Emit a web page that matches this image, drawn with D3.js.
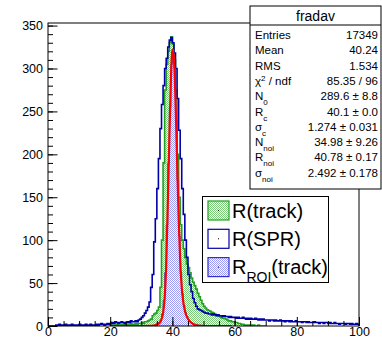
<!DOCTYPE html>
<html><head><meta charset="utf-8">
<script src="https://cdn.jsdelivr.net/npm/d3@7"></script>
<style>
html,body{margin:0;padding:0;background:#fff;}
svg{display:block;font-family:"Liberation Sans",Arial,Helvetica,sans-serif;}
</style></head>
<body><svg id="c" width="382" height="338"></svg>
<script>
// ---------------- data ----------------
const binWidth = 0.5;
const xTicks = [0, 20, 40, 60, 80, 100];
const yTicks = [0, 50, 100, 150, 200, 250, 300, 350];

// R(SPR): bins of 0.5 from 0 to 100
const sprStart = 0;
const sprCounts = [
  0,0,0,0,0,1,0,2,1,0,      1,2,1,0,1,2,1,1,0,1,
  2,1,0,1,2,1,1,2,1,0,      1,2,1,2,3,2,1,2,3,2,
  3,4,3,5,4,3,4,5,4,3,      4,5,4,6,5,5,6,5,7,8,
  10,12,15,18,22,28,        45,60,98,125,
  160,195,230,258,          280,300,312,325,
  333,336,330,318,          300,265,228,195,
  160,130,100,80,           60,48,40,32,
  27,23,20,19,18,17,
  16,15,15,14,14,13,14,13,12,13,  12,12,11,12,11,11,10,11,10,10,
  10,9,10,9,9,10,9,8,9,8,         9,8,8,9,8,7,8,7,8,7,
  7,7,6,7,7,6,7,6,6,7,            6,6,5,6,6,5,6,5,5,6,
  5,5,5,4,5,5,4,5,4,4,            4,5,4,4,3,4,4,3,4,4,
  3,4,3,3,4,3,3,2,3,3,            3,2,3,3,2,3,2,2,3,2
];

// R(track): bins of 0.5 from 20 to 70
const trackStart = 20;
const trackCounts = [
  1,0,1,1,2,1,1,2,1,2,      2,1,2,3,2,2,3,2,3,3,
  4,3,5,5,6,7,              8,12,14,15,
  18,22,45,100,             190,275,305,320,
  330,337,328,310,          275,200,150,118,
  100,90,80,72,             68,62,56,51,
  47,43,38,34,30,26,
  23,21,19,18,17,16,15,14,13,12,
  11,10,9,9,8,7,6,6,5,5,
  4,4,3,3,2,2,1,1,1,0,
  1,0,1,0,0,1,0,0,0,0
];

// R_ROI(track): bins of 0.5 from 34 to 50
const roiStart = 34;
const roiCounts = [
  1,2, 3,4, 7,14, 30,62, 118,190, 255,305, 322,300, 240,170,
  105,62, 38,24, 16,11, 7,5, 4,3, 2,2, 1,1,1,0
];

const fitX = [20, 30, 32, 34, 35, 36, 36.5, 37, 37.5, 38, 38.5, 39, 39.5, 40, 40.5, 41, 41.5, 42, 42.5, 43, 43.5, 44, 44.5, 45, 46, 47, 48, 50, 59];
const fitY = [0, 0, 0.1, 0.5, 1.5, 4, 8, 15, 32, 70, 140, 215, 285, 322, 312, 262, 193, 127, 77, 45, 28, 18, 12, 8.5, 4, 1.5, 0.5, 0, 0];

// legend and stats texts
const legendLabels = ["R(track)", "R(SPR)", "R_ROI(track)"];
const statsTitle = "fradav";
const statsNames = ["Entries", "Mean", "RMS", "χ2 / ndf", "N_0", "R_c", "σ_c", "N_noi", "R_noi", "σ_noi"];
const statsValues = ["17349", "40.24", "1.534", "85.35 / 96", "289.6 ± 8.8", "40.1 ± 0.0", "1.274 ± 0.031", "34.98 ± 9.26", "40.78 ± 0.17", "2.492 ± 0.178"];

// ---------------- drawing ----------------
const svg = d3.select("#c");
const L = 48, R = 359, T = 23, B = 326;
const x = d3.scaleLinear().domain([0, 100]).range([L, R]);
const y = d3.scaleLinear().domain([0, 353]).range([B, T]);

const defs = svg.append("defs");
function dotPattern(id, color) {
  const p = defs.append("pattern").attr("id", id).attr("patternUnits", "userSpaceOnUse")
    .attr("width", 2).attr("height", 2);
  p.append("rect").attr("width", 2).attr("height", 2).attr("fill", "#fff");
  p.append("rect").attr("x", 0).attr("y", 0).attr("width", 1).attr("height", 1).attr("fill", color);
  p.append("rect").attr("x", 1).attr("y", 1).attr("width", 1).attr("height", 1).attr("fill", color);
}
dotPattern("pg", "#7ccc7c");
dotPattern("pb", "#9c9cf2");
defs.append("clipPath").attr("id", "frameclip").append("rect")
  .attr("x", L).attr("y", T).attr("width", R - L).attr("height", B - T);

function histPoints(start, counts) {
  const pts = [[start, 0]];
  counts.forEach((c, i) => {
    const x0 = start + i * binWidth;
    pts.push([x0, c], [x0 + binWidth, c]);
  });
  pts.push([start + counts.length * binWidth, 0]);
  return pts;
}
const line = d3.line().x(d => x(d[0])).y(d => y(d[1]));
const area = d3.area().x(d => x(d[0])).y0(y(0)).y1(d => y(d[1]));

const plot = svg.append("g").attr("clip-path", "url(#frameclip)");

const sprPts = histPoints(sprStart, sprCounts);
const trPts = histPoints(trackStart, trackCounts);
plot.append("path").datum(trPts).attr("d", area).attr("fill", "url(#pg)");
plot.append("path").datum(trPts).attr("d", line).attr("fill", "none")
  .attr("stroke", "#22a022").attr("stroke-width", 1.6);
plot.append("path").datum(sprPts).attr("d", line).attr("fill", "none")
  .attr("stroke", "#0000a8").attr("stroke-width", 1.6);
const roiPts = histPoints(roiStart, roiCounts);
plot.append("path").datum(roiPts).attr("d", area).attr("fill", "url(#pb)");
plot.append("path").datum(roiPts).attr("d", line).attr("fill", "none")
  .attr("stroke", "#3030c8").attr("stroke-width", 0.8);
const fitPts = fitX.map((v, i) => [v, fitY[i]]);
plot.append("path").datum(fitPts).attr("d", d3.line().x(d => x(d[0])).y(d => y(d[1])).curve(d3.curveMonotoneX))
  .attr("fill", "none").attr("stroke", "#ff0000").attr("stroke-width", 2.2);

// axes
const fs = 12.5;
const yMinor = d3.range(0, 351, 10);
const xMinor = d3.range(0, 101, 5);
const gy = svg.append("g").attr("transform", `translate(${L},0)`);
gy.call(d3.axisLeft(y).tickValues(yMinor).tickSize(-5).tickFormat(""));
gy.call(g => g.select(".domain").remove());
const gy2 = svg.append("g").attr("transform", `translate(${L},0)`);
gy2.call(d3.axisLeft(y).tickValues(yTicks).tickSize(-9.5).tickPadding(5).tickFormat(d3.format("d")));
gy2.call(g => g.select(".domain").remove());
const gx = svg.append("g").attr("transform", `translate(0,${B})`);
gx.call(d3.axisBottom(x).tickValues(xMinor).tickSize(-5).tickFormat(""));
gx.call(g => g.select(".domain").remove());
const gx2 = svg.append("g").attr("transform", `translate(0,${B})`);
gx2.call(d3.axisBottom(x).tickValues(xTicks).tickSize(-9).tickPadding(2).tickFormat(d3.format("d")));
gx2.call(g => g.select(".domain").remove());
gx2.selectAll(".tick text").attr("dy", "0.66em");
svg.selectAll(".tick line").attr("stroke", "#000");
svg.selectAll(".tick text").attr("font-size", fs).attr("fill", "#000")
  .attr("font-family", "Liberation Sans, Arial, sans-serif");

// frame
svg.append("rect").attr("x", L).attr("y", T).attr("width", R - L).attr("height", B - T)
  .attr("fill", "none").attr("stroke", "#000").attr("stroke-width", 1);

function richText(sel, str, subSize) {
  if (str.startsWith("χ2")) {
    sel.append("tspan").text("χ");
    sel.append("tspan").text("2").attr("font-size", subSize).attr("baseline-shift", "super");
    sel.append("tspan").text(str.slice(2));
    return;
  }
  const parts = str.split("_");
  if (parts.length === 1) { sel.text(str); return; }
  const m = parts[1].match(/^([A-Za-z0-9]+)(.*)$/);
  sel.append("tspan").text(parts[0]);
  sel.append("tspan").text(m[1]).attr("font-size", subSize).attr("baseline-shift", "sub");
  if (m[2]) sel.append("tspan").text(m[2]);
}

// stats box
const sb = svg.append("g");
const sx0 = 250, sx1 = 381, sy0 = 6, sy1 = 189;
sb.append("rect").attr("x", sx0).attr("y", sy0).attr("width", sx1 - sx0).attr("height", sy1 - sy0)
  .attr("fill", "#fff").attr("stroke", "#000").attr("stroke-width", 1);
sb.append("line").attr("x1", sx0).attr("x2", sx1).attr("y1", 25).attr("y2", 25).attr("stroke", "#000");
sb.append("text").attr("x", (sx0 + sx1) / 2).attr("y", 21).attr("text-anchor", "middle")
  .attr("font-size", 14).text(statsTitle);
statsNames.forEach((n, i) => {
  const cy = 39 + i * 15.3;
  const t = sb.append("text").attr("x", 255).attr("y", cy).attr("font-size", 11.5);
  richText(t, n, 8);
  sb.append("text").attr("x", 378).attr("y", cy).attr("text-anchor", "end")
    .attr("font-size", 11.5).text(statsValues[i]);
});

// legend
const lg = svg.append("g");
lg.append("rect").attr("x", 202.5).attr("y", 196.5).attr("width", 126).attr("height", 86)
  .attr("fill", "#fff").attr("stroke", "#000").attr("stroke-width", 1);
const legFill = ["url(#pg)", "#fff", "url(#pb)"];
const legStroke = ["#22a022", "#0000a8", "#3030c8"];
legendLabels.forEach((lab, i) => {
  const by = 201 + i * 28.3;
  lg.append("rect").attr("x", 208).attr("y", by).attr("width", 21).attr("height", 19)
    .attr("fill", legFill[i]).attr("stroke", legStroke[i]).attr("stroke-width", 1.2);
  lg.append("rect").attr("x", 218).attr("y", by + 9).attr("width", 1).attr("height", 1).attr("fill", "#000");
  const t = lg.append("text").attr("x", 232).attr("y", by + 16.5).attr("font-size", 20);
  richText(t, lab, 14);
});
</script></body></html>
